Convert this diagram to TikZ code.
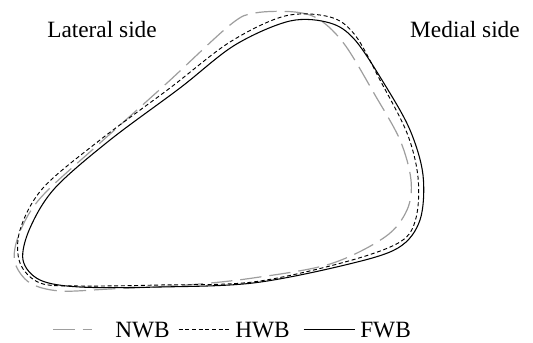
\documentclass[tikz,border=0pt]{standalone}
\usepackage{fontspec}
\setmainfont{Liberation Serif}
\tikzset{
  nwb/.style={draw=black!38, line width=0.9pt, dash pattern=on 16pt off 6pt},
  hwb/.style={draw=black, line width=0.7pt, dash pattern=on 3pt off 2pt},
  fwb/.style={draw=black, line width=0.8pt},
  side label/.style={font=\fontsize{17.5}{20}\selectfont},
  legend label/.style={font=\fontsize{17.5}{20}\selectfont, inner sep=0pt, anchor=base west},
}
\begin{document}
\begin{tikzpicture}[x=0.75pt,y=-0.75pt]
        \useasboundingbox (0,0) rectangle (533,343);
        % non weight bearing
        \draw
          [nwb]
          plot [smooth cycle, tension=0.55] coordinates {
            (255,13) (295,12) (320,20) (345,45) (375,95) (400,140)
            (411,180) (407,210) (385,237) (330,264) (253,278) (187,285)
            (110,289) (60,291) (30,283) (15,263) (17,240) (30,212)
            (50,188) (100,143) (167,83) (230,25)}
        ;
        % half weight bearing
        \draw
          [hwb]
          plot [smooth cycle, tension=0.55] coordinates {
            (285,16) (330,17) (355,35) (380,80) (407,133) (418,177)
            (416,218) (400,242) (345,262) (253,282) (160,285) (80,286)
            (40,283) (20,263) (20,230) (43,188) (100,140) (170,88)
            (230,42)}
        ;
        % full weight bearing
        \draw
          [fwb]
          plot [smooth cycle, tension=0.55] coordinates {
            (290,21) (330,23) (355,40) (385,85) (410,130) (423,175)
            (420,220) (398,248) (345,265) (253,283) (160,287) (80,287)
            (40,280) (23,260) (30,228) (55,188) (110,140) (180,88)
            (235,45)}
        ;
        \node (lateral label) [side label] at (102,30) {Lateral side};
        \node (medial label) [side label] at (465,30) {Medial side};
        % legend
        \node (nwb label) [legend label] at (115,337) {NWB};
        \node (hwb label) [legend label] at (235,337) {HWB};
        \node (fwb label) [legend label] at (360,337) {FWB};
        \draw [nwb]
          ([xshift=-17pt]nwb label.west) ++(-39,0)
          -- ([xshift=-17pt]nwb label.west)
        ;
        \draw [hwb]
          ([xshift=-4pt]hwb label.west) ++(-51,0)
          -- ([xshift=-4pt]hwb label.west)
        ;
        \draw [fwb]
          ([xshift=-4pt]fwb label.west) ++(-51,0)
          -- ([xshift=-4pt]fwb label.west)
        ;
\end{tikzpicture}
\end{document}
